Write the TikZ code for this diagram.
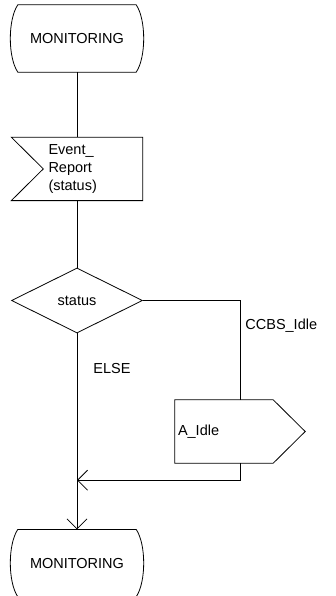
\documentclass[tikz,border=0pt]{standalone}
\usepackage{fontspec}
\setmainfont{Liberation Sans}
\usetikzlibrary{arrows.meta,positioning,calc,shapes.geometric}
\tikzset{
  sdlfont/.style={font=\fontsize{14.5}{18}\selectfont},
  statebox/.style={sdlfont,minimum width=118pt,minimum height=67pt,inner sep=0pt},
  inputbox/.style={sdlfont,minimum width=131pt,minimum height=63pt,text width=57pt,
    align=left,inner xsep=0pt},
  decisionbox/.style={sdlfont,diamond,draw,line width=0.8pt,aspect=2,
    minimum width=131pt,minimum height=65pt,inner sep=0pt},
  outputbox/.style={sdlfont,minimum width=130pt,minimum height=63pt,text width=124pt,
    align=left,inner xsep=3pt},
  flowline/.style={line width=0.8pt},
  flowarrow/.style={flowline,-{Straight Barb[length=10pt,width=20pt]}},
  flowlabel/.style={sdlfont,inner sep=0pt}
}
\begin{document}
\begin{tikzpicture}[x=1pt,y=-1pt,node distance=65pt]
  \useasboundingbox (0,0) rectangle (335,596);
  \node[statebox] (start) at (77,38.5) {MONITORING};
  \node[inputbox,below=of start] (report) {Event\_\\Report\\(status)};
  \node[decisionbox,below=67pt of report] (status) {status};
  \node[statebox,below=196pt of status] (monitor) {MONITORING};
  \node[outputbox] (aidle) at (240,431.5) {A\_Idle};
  % symbol outlines
  \draw[flowline] (start.north west) -- (start.north east)
    .. controls +(10,15) and +(10,-15) .. (start.south east) -- (start.south west)
    .. controls +(-10,-15) and +(-10,15) .. (start.north west) -- cycle;
  \draw[flowline] (monitor.north west) -- (monitor.north east)
    .. controls +(10,15) and +(10,-15) .. (monitor.south east) -- (monitor.south west)
    .. controls +(-10,-15) and +(-10,15) .. (monitor.north west) -- cycle;
  \draw[flowline] (report.north west) -- (report.north east) -- (report.south east)
    -- (report.south west) -- ($(report.west)+(32,0)$) -- cycle;
  \draw[flowline] (aidle.north west) -- ($(aidle.north east)+(-32,0)$) -- (aidle.east)
    -- ($(aidle.south east)+(-32,0)$) -- (aidle.south west) -- cycle;
  % connectors
  \draw[flowline] (start.south) -- (report.north);
  \draw[flowline] (report.south) -- (status.north);
  \draw[flowline] (status.east) -| node[flowlabel,pos=0.625,right=5pt] {CCBS\_Idle} (aidle.north);
  \draw[flowarrow] (status.south) -- node[flowlabel,pos=0.18,right=16pt] {ELSE} (monitor.north);
  \coordinate (merge) at ($(status.south |- aidle.south)+(0,17)$);
  \draw[flowarrow] (aidle.south) |- (merge);
\end{tikzpicture}
\end{document}
